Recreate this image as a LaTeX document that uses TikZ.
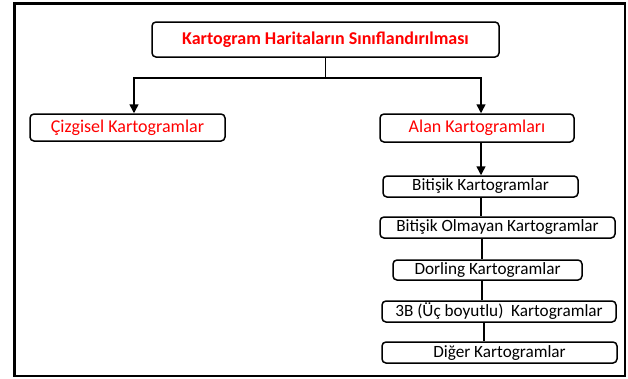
\documentclass[tikz,border=0pt]{standalone}
\usepackage{fontspec}
\setmainfont{Carlito}
\usetikzlibrary{arrows.meta}
\tikzset{
  box/.style={draw=black, line width=1.5pt, rounded corners=4pt, fill=white, inner sep=0pt,
    font=\fontsize{17.2}{20}\selectfont},
  redtext/.style={text=red},
  arr/.style={line width=1.5pt, -{Triangle[width=9pt,length=9pt]}},
  conn/.style={line width=1.5pt}
}
\begin{document}
\begin{tikzpicture}[x=1pt,y=-1pt]
\useasboundingbox (0,0) rectangle (628,378);
\fill[white] (0,0) rectangle (628,378);
\draw[line width=2.6pt] (14.5,3.5) rectangle (625,376);

\node[box, redtext, minimum width=347pt, minimum height=35pt, font=\fontsize{18}{21}\selectfont\bfseries] (title) at (325.5,39.5) {Kartogram Haritaların Sınıflandırılması};
\node[box, redtext, minimum width=195pt, minimum height=27pt, font=\fontsize{18}{21}\selectfont] (cizgi) at (127.5,127.5) {Çizgisel Kartogramlar};
\node[box, redtext, minimum width=194pt, minimum height=28pt, font=\fontsize{18}{21}\selectfont] (alan) at (477,128) {Alan Kartogramları};

\node[box, minimum width=195pt, minimum height=21pt] (bit) at (480.5,186.5) {Bitişik Kartogramlar};
\node[box, minimum width=235pt, minimum height=21pt] (olm) at (497.5,227.5) {Bitişik Olmayan Kartogramlar};
\node[box, minimum width=189pt, minimum height=20pt] (dor) at (487.5,270) {Dorling Kartogramlar};
\node[box, minimum width=234pt, minimum height=21pt] (uc) at (499,311.5) {3B (Üç boyutlu)~ Kartogramlar};
\node[box, minimum width=235pt, minimum height=21pt] (dig) at (499.5,352.5) {Diğer Kartogramlar};

\coordinate (j) at (325.5,78);
\draw[conn] (title.south) -- (j);
\draw[arr] (j) -| ([xshift=6.5pt]cizgi.north);
\draw[arr] (j) -| ([xshift=4pt]alan.north);
\draw[arr] ([xshift=4pt]alan.south) -- ([xshift=0.5pt]bit.north);
\draw[conn] ([xshift=0.5pt]bit.south) -- ([xshift=0.5pt]bit.south |- olm.north);
\draw[conn] ([xshift=1.5pt]bit.south |- olm.south) -- ([xshift=1.5pt]bit.south |- dor.north);
\draw[conn] ([xshift=1.5pt]bit.south |- dor.south) -- ([xshift=1.5pt]bit.south |- uc.north);
\draw[conn] ([xshift=3.5pt]bit.south |- uc.south) -- ([xshift=3.5pt]bit.south |- dig.north);
\end{tikzpicture}
\end{document}
